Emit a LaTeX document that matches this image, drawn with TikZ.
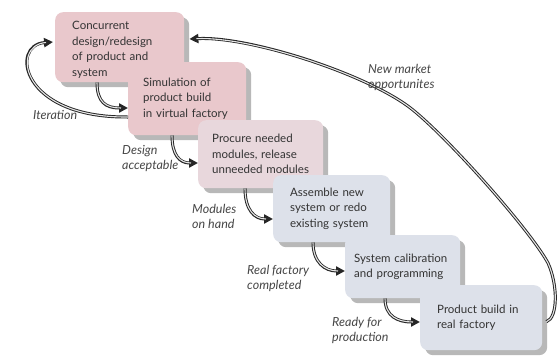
\documentclass[tikz,border=0pt]{standalone}
\usepackage{fontspec}
\setmainfont{Lato}
\usetikzlibrary{arrows.meta,shadows,calc}
\definecolor{pinkA}{RGB}{233,200,204}
\definecolor{pinkB}{RGB}{232,215,220}
\definecolor{blueA}{RGB}{221,225,234}
\definecolor{bgY}{RGB}{255,250,205}
\begin{document}
\begin{tikzpicture}[x=1pt,y=-1pt,
  box/.style={draw=none, rounded corners=8pt, anchor=north west, align=left,
    font=\fontsize{11.5}{15.5}\selectfont, text=black!80,
    general shadow={fill=black!28, shadow xshift=5pt, shadow yshift=-5pt}},
  lbl/.style={font=\itshape\fontsize{12.5}{15.5}\selectfont, text=black!72, align=left, anchor=north west, inner sep=0pt},
  flow/.style={draw=black!85, line width=3pt, -{Triangle[length=9pt,width=9pt]},
    postaction={draw=black!10, line width=1.1pt, shorten >=7pt, -}}
]
\useasboundingbox (0,0) rectangle (557,356);
\shade[top color=white, middle color=bgY, bottom color=white] (11,10) rectangle (557,348);

\node[box, fill=pinkA, minimum width=117pt, minimum height=70pt, inner xsep=17pt, inner ysep=0pt, text width=95pt] (n1) at (55,12)
  {\rule{0pt}{14pt}Concurrent\\design/redesign\\of product and\\system};
\node[box, fill=pinkA, minimum width=118pt, minimum height=73pt, inner xsep=15pt, text width=88pt] (n2) at (128,62)
  {Simulation of\\product build\\in virtual factory};
\node[box, fill=pinkB, minimum width=125pt, minimum height=68pt, inner xsep=14pt, text width=97pt] (n3) at (198,120)
  {Procure needed\\modules, release\\unneeded modules};
\node[box, fill=blueA, minimum width=117pt, minimum height=67pt, inner xsep=17pt, text width=83pt] (n4) at (273,175)
  {Assemble new\\system or redo\\existing system};
\node[box, fill=blueA, minimum width=115pt, minimum height=63pt, inner xsep=9pt, text width=97pt] (n5) at (345,235)
  {System calibration\\and programming};
\node[box, fill=blueA, minimum width=122pt, minimum height=65pt, inner xsep=17pt, text width=88pt] (n6) at (420,285)
  {Product build in\\real factory};

\draw[flow] ($(n1.south west)+(42,0)$) .. controls +(0,20) and +(-22,0) .. ($(n2.north west)+(0,46)$);
\draw[flow] ($(n2.south west)+(44,0)$) .. controls +(0,20) and +(-18,0) .. ($(n3.north west)+(0,43)$);
\draw[flow] ($(n3.south west)+(47,0)$) .. controls +(0,22) and +(-18,0) .. ($(n4.north west)+(0,44)$);
\draw[flow] ($(n4.south west)+(40,0)$) .. controls +(0,20) and +(-20,0) .. ($(n5.north west)+(0,36)$);
\draw[flow] ($(n5.south west)+(40,0)$) .. controls +(0,18) and +(-22,0) .. ($(n6.north west)+(0,37)$);

\draw[flow] ($(n2.north west)+(0,55)$) .. controls (20,118) and (10,45) .. ($(n1.north west)+(-2,30)$);

\coordinate (m1) at (548,263);
\coordinate (m2) at (413,110);
\draw[flow] ($(n6.east)+(4,4)$) .. controls (558,318) and (558,285) .. (m1)
  .. controls (530,230) and (450,140) .. (m2)
  .. controls (370,75) and (250,36) .. ($(n1.north east)+(5,27)$);

\node[lbl] (l1) at (33,110) {Iteration};
\node[lbl] (l2) at (122,145) {Design\\acceptable};
\node[lbl] (l3) at (192,204) {Modules\\on hand};
\node[lbl] (l4) at (247,265) {Real factory\\completed};
\node[lbl] (l5) at (332,317) {Ready for\\production};
\node[lbl] (l6) at (368,64) {New market\\opportunites};
\end{tikzpicture}
\end{document}
